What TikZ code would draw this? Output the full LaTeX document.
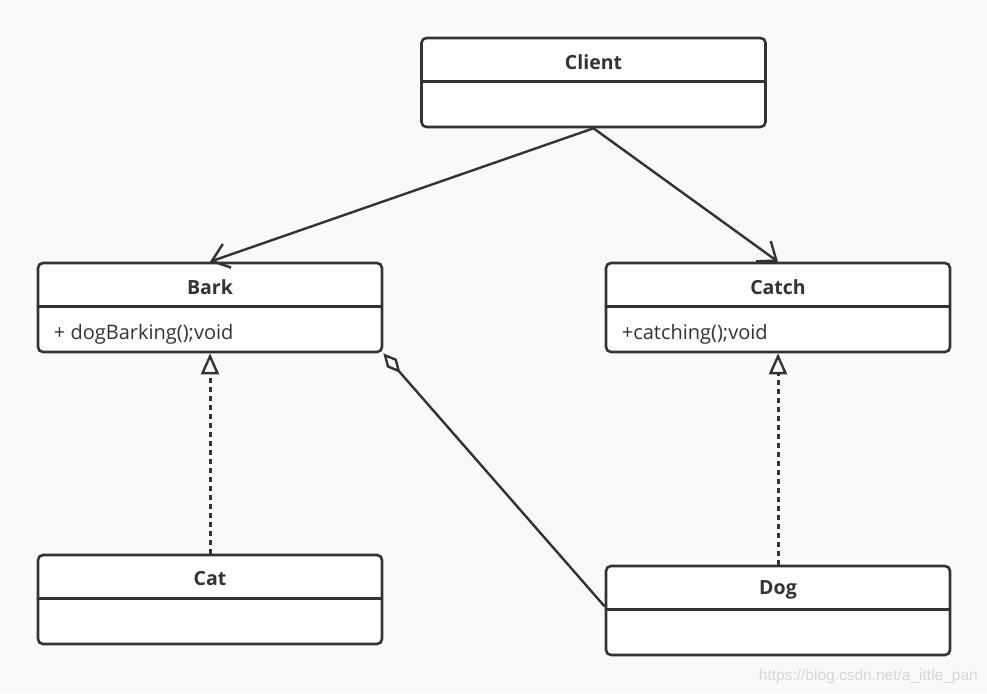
\documentclass[tikz,border=0pt]{standalone}
\usepackage{fontspec}
\setmainfont{Open Sans}
\newfontfamily\markfont{Liberation Sans}
\usetikzlibrary{arrows.meta}
\definecolor{ink}{HTML}{333333}
\definecolor{paper}{HTML}{F9F9F9}
\definecolor{mark}{HTML}{D6D6D6}
\begin{document}
\begin{tikzpicture}[x=1pt,y=-1pt,
  classbox/.style={draw=ink, fill=white, line width=2.6pt, rounded corners=5pt,
    minimum width=344pt, minimum height=89pt, inner sep=0pt},
  classname/.style={text=ink, inner sep=0pt, font=\fontsize{19.5}{21}\selectfont\bfseries},
  member/.style={text=ink, inner sep=0pt, font=\fontsize{20}{22}\selectfont, anchor=west},
  assoc/.style={draw=ink, line width=2.4pt, -{Straight Barb[length=16pt,width=25pt]}},
  realize/.style={draw=ink, line width=3pt, dash pattern=on 4.5pt off 4.5pt,
    -{Triangle[open,length=21pt,width=18pt,fill=white,line width=2.4pt]}},
  aggr/.style={draw=ink, line width=2.4pt,
    {Diamond[open,length=26pt,width=13pt,fill=white,line width=2.4pt]}-}
]
% canvas
\fill[paper] (0,0) rectangle (987,693);
\useasboundingbox (0,0) rectangle (987,693);

% class boxes
\node[classbox] (client) at (593.5,82.5) {};
\node[classbox] (bark)   at (210,307.5) {};
\node[classbox] (catch)  at (778,307.5) {};
\node[classbox] (cat)    at (210,599.5) {};
\node[classbox] (dog)    at (778,610.5) {};

% compartment dividers and class names
\foreach \c/\t in {client/Client, bark/Bark, catch/Catch, cat/Cat, dog/Dog}{
  \draw[ink, line width=2.6pt] ([yshift=-44.5pt]\c.north west) -- ([yshift=-44.5pt]\c.north east);
  \node[classname] (\c-name) at ([yshift=-25pt]\c.north) {\t};
}
% operations
\node[member] (bark-op)  at ([xshift=17pt,yshift=-73pt]bark.north west) {+ dogBarking();void};
\node[member] (catch-op) at ([xshift=17pt,yshift=-73pt]catch.north west) {+catching();void};

% relations
\draw[assoc] (client.south) -- (bark.north);
\draw[assoc] (client.south) -- (catch.north);
\draw[realize] (cat.north) -- (bark.south);
\draw[realize] (dog.north) -- (catch.south);
\draw[aggr] (bark.south east) -- ([yshift=4pt]dog.west);

% watermark
\node[text=mark, inner sep=0pt, font=\fontsize{15.5}{17}\selectfont\markfont, anchor=east] (wm) at (978,676) {https://blog.csdn.net/a\_ittle\_pan};
\end{tikzpicture}
\end{document}
